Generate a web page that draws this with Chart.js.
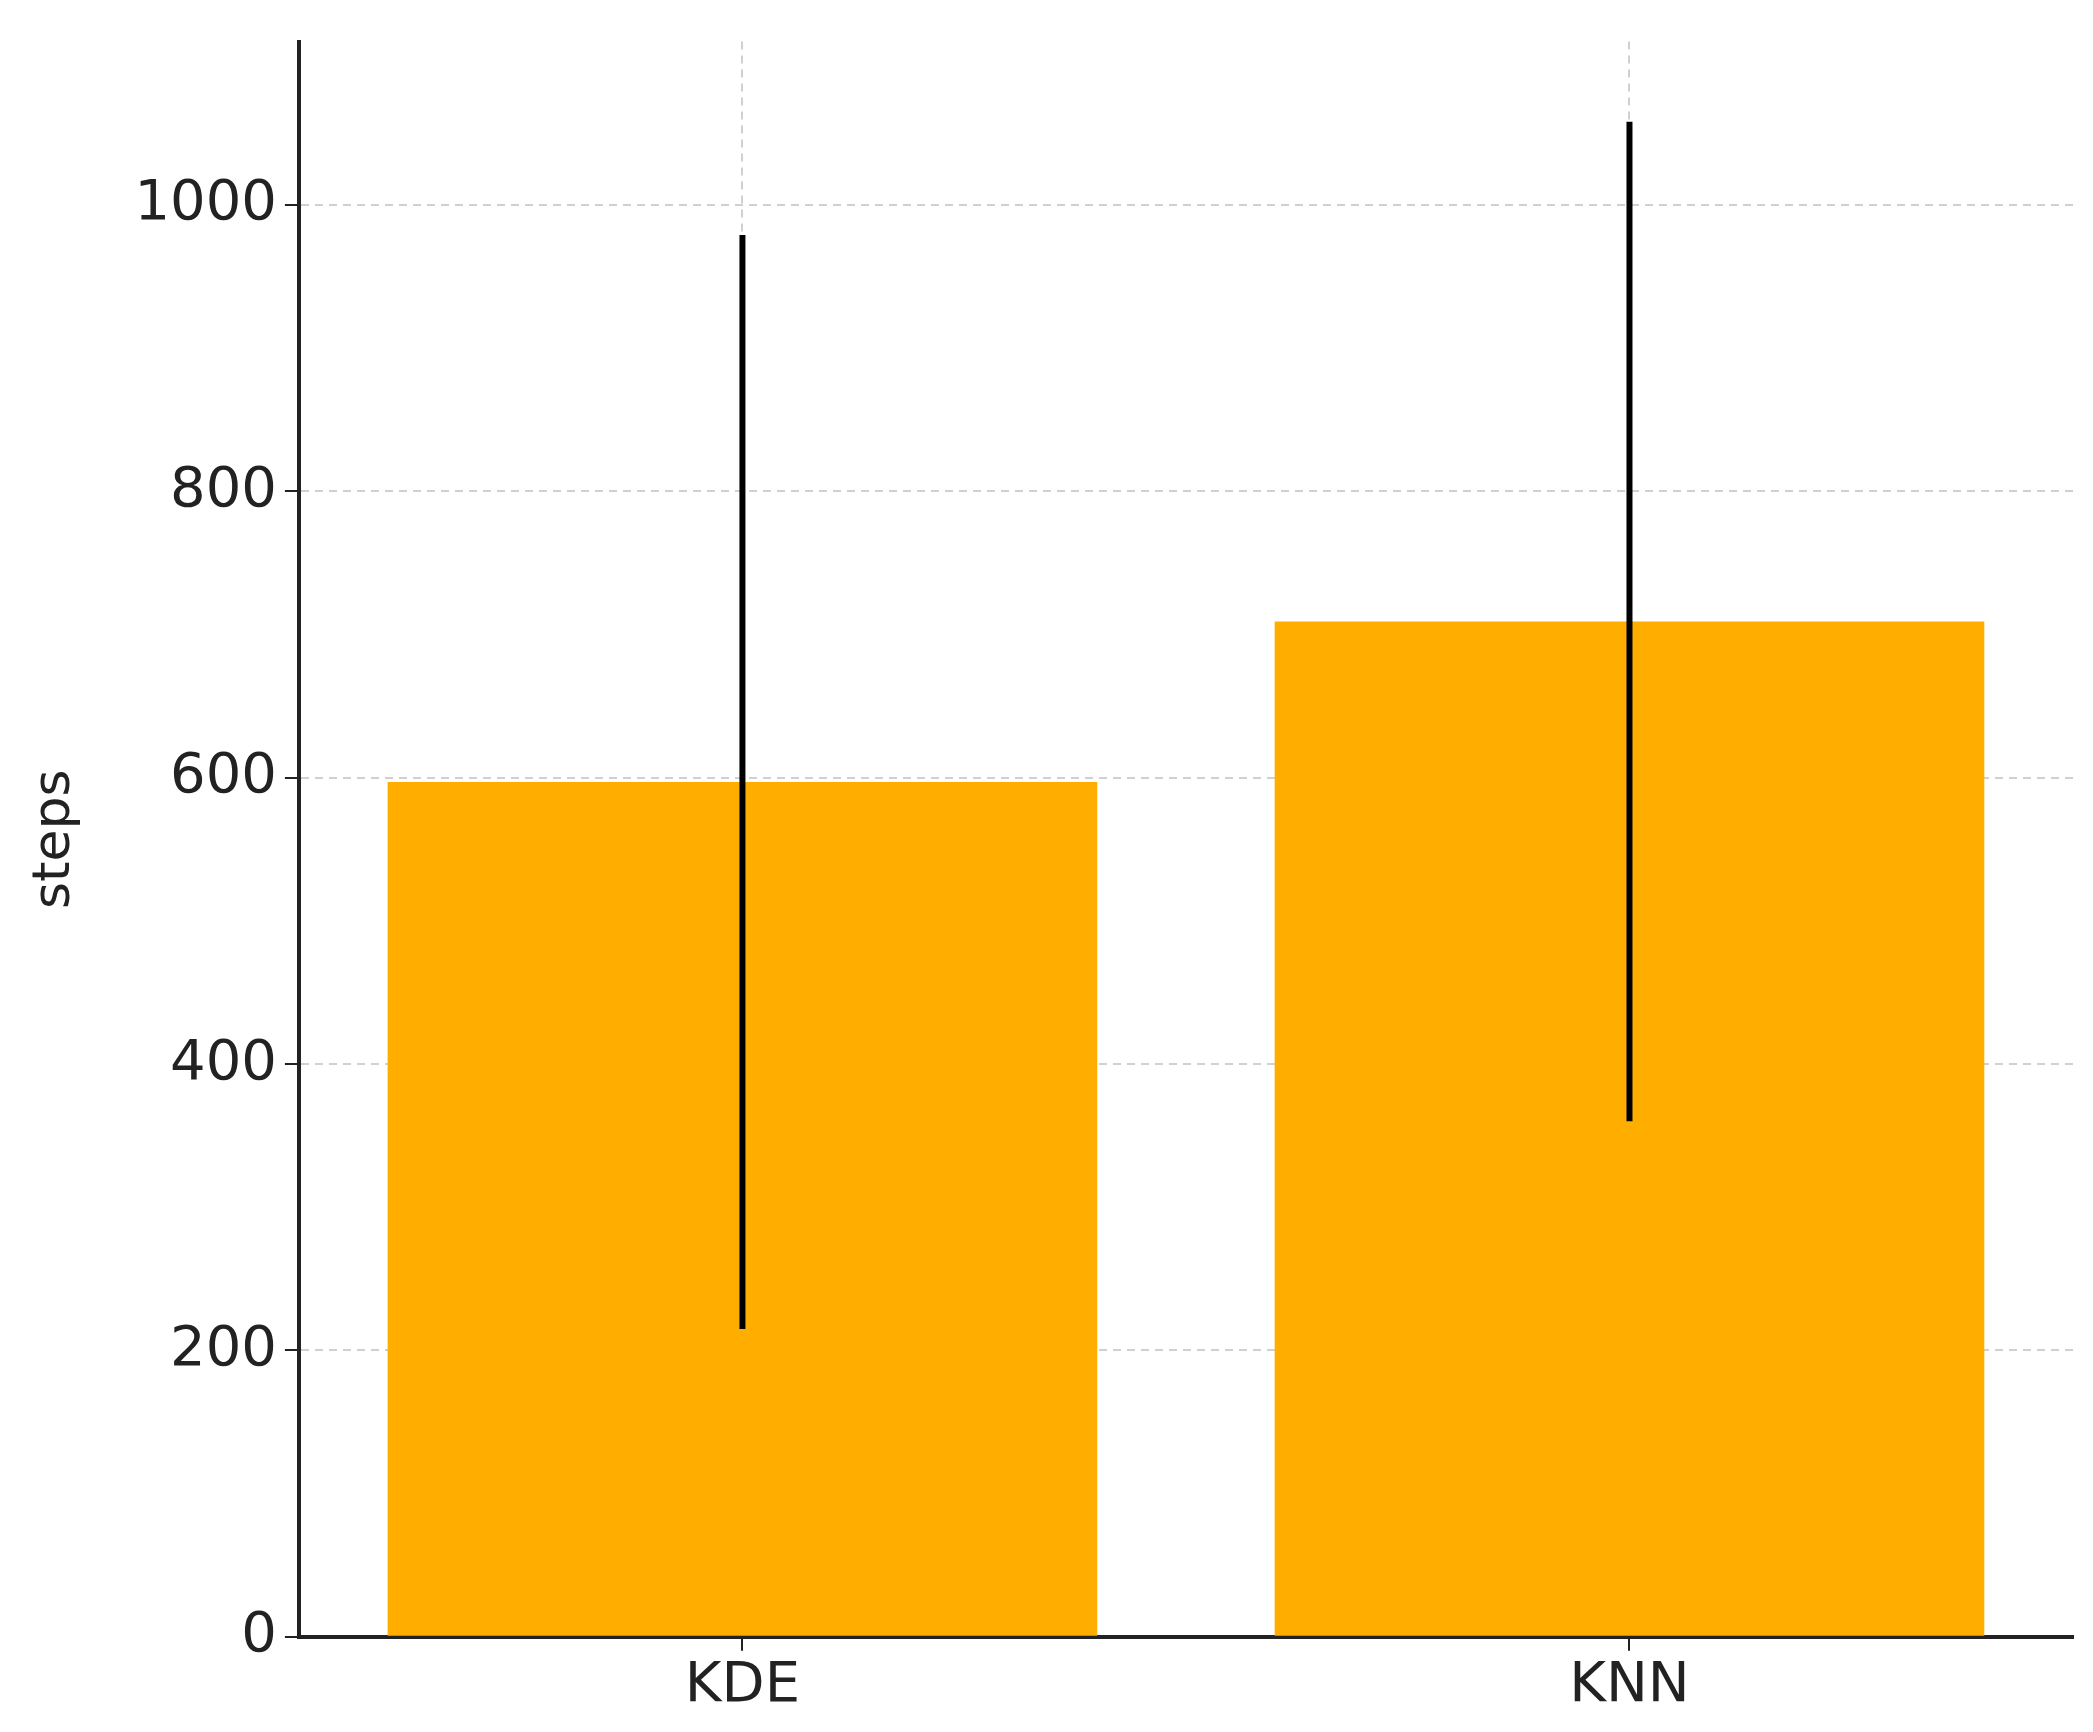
<!DOCTYPE html>
<html><head><meta charset="utf-8">
<script src="https://cdn.jsdelivr.net/npm/chart.js@4/dist/chart.umd.min.js"></script>
<style>html,body{margin:0;padding:0;background:#fff}</style>
</head><body>
<canvas id="c" width="2093" height="1732" style="width:2093px;height:1732px"></canvas>
<script>
const categories = ["KDE", "KNN"];
const means = [597, 709];
const errors = [382, 349];
const yTicks = [0, 200, 400, 600, 800, 1000];

const errPlugin = {
  id: 'err',
  afterDatasetsDraw(chart) {
    const ctx = chart.ctx, x = chart.scales.x, y = chart.scales.y;
    ctx.save();
    ctx.strokeStyle = '#000';
    ctx.lineWidth = 6;
    categories.forEach((c, i) => {
      const px = x.getPixelForValue(i);
      ctx.beginPath();
      ctx.moveTo(px, y.getPixelForValue(means[i] - errors[i]));
      ctx.lineTo(px, y.getPixelForValue(means[i] + errors[i]));
      ctx.stroke();
    });
    ctx.restore();
  }
};

new Chart(document.getElementById('c'), {
  type: 'bar',
  data: { labels: categories, datasets: [{ data: means, backgroundColor: '#FFAE00', categoryPercentage: 1.0, barPercentage: 0.8 }] },
  options: {
    responsive: false, animation: false,
    layout: { padding: { top: 40, right: 20, bottom: 10, left: 20 } },
    plugins: { legend: { display: false }, tooltip: { enabled: false } },
    scales: {
      x: {
        offset: true,
        grid: { offset: false, color: '#d0d0d0', lineWidth: 2, tickColor: '#222', tickLength: 14 },
        border: { color: '#222', width: 4, dash: [8, 6] },
        ticks: { color: '#222', font: { family: 'DejaVu Sans', size: 56 }, padding: 2 }
      },
      y: {
        min: 0, max: 1114,
        afterBuildTicks(s) { s.ticks = yTicks.map(v => ({ value: v })); },
        grid: { color: '#d0d0d0', lineWidth: 2, tickColor: '#222', tickLength: 14 },
        border: { color: '#222', width: 4, dash: [8, 6] },
        ticks: { color: '#222', font: { family: 'DejaVu Sans', size: 56 }, padding: 8, callback: v => String(v) },
        title: { display: true, text: 'steps', color: '#222', font: { family: 'DejaVu Sans', size: 52 }, padding: { bottom: 40 } }
      }
    }
  },
  plugins: [errPlugin]
});
</script>
</body></html>
